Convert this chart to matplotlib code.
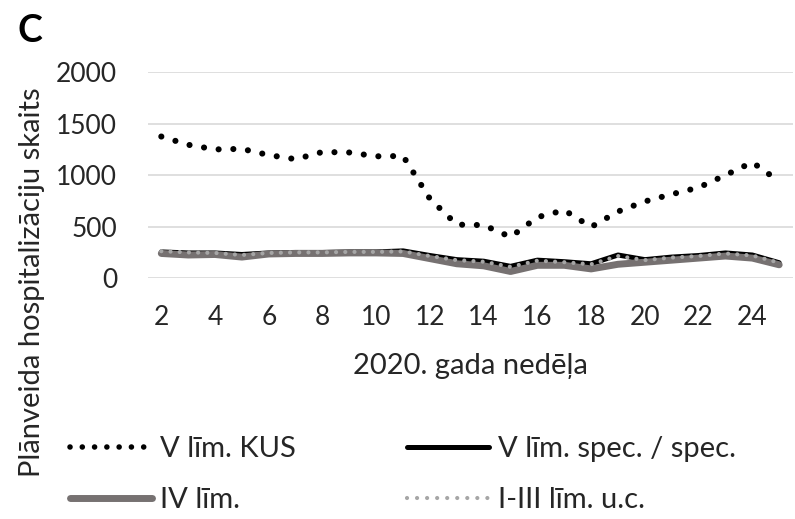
import matplotlib.pyplot as plt
from matplotlib.lines import Line2D

plt.rcParams['font.family'] = ['Lato', 'DejaVu Sans']

# planned hospitalisations per week of 2020, by hospital level
weeks = list(range(2, 26))
kus = [1375, 1295, 1250, 1255, 1195, 1155, 1225, 1220, 1183, 1186,
       770, 520, 515, 400, 592, 660, 497, 647, 745, 815, 880, 1000, 1125, 940]
spec = [255, 245, 245, 230, 245, 250, 250, 255, 255, 265,
        220, 180, 165, 115, 175, 160, 140, 225, 180, 205, 220, 245, 225, 150]
level_iv = [240, 225, 230, 205, 235, 240, 240, 245, 245, 240,
            190, 140, 120, 65, 125, 125, 90, 135, 155, 175, 195, 215, 195, 130]
level_i_iii = [262, 250, 245, 225, 245, 250, 250, 255, 255, 260,
               215, 175, 160, 110, 170, 155, 135, 215, 175, 200, 215, 240, 220, 150]

labels = ["V līm. KUS", "V līm. spec. / spec.", "IV līm.", "I-III līm. u.c."]

fig = plt.figure(figsize=(7.95, 5.19), dpi=100)
ax = fig.add_axes([0.186, 0.464, 0.811, 0.397])

ax.plot(weeks, kus, color="black", lw=4.4, linestyle=(0, (0.01, 2.4)),
        dash_capstyle="round", zorder=3)
ax.plot(weeks, spec, color="black", lw=3.6, solid_capstyle="round", zorder=3)
ax.plot(weeks, level_iv, color="#767171", lw=5.0, solid_capstyle="round", zorder=4)
ax.plot(weeks, level_i_iii, color="#a6a6a6", lw=3.0, linestyle=(0, (0.01, 2.2)),
        dash_capstyle="round", zorder=5)

ax.set_xlim(1.5, 25.5)
ax.set_ylim(0, 2000)
ax.set_xticks(range(2, 26, 2))
ax.set_yticks(range(0, 2001, 500))
ax.grid(axis="y", color="#d9d9d9", lw=1.2)
ax.set_axisbelow(True)
for s in ax.spines.values():
    s.set_visible(False)
ax.tick_params(axis="both", length=0, labelsize=19, colors="#262626")
ax.tick_params(axis="x", pad=19)
ax.tick_params(axis="y", pad=22)

ax.set_xlabel("2020. gada nedēļa", fontsize=21, color="#262626", labelpad=17)
fig.text(0.040, 0.457, "Plānveida hospitalizāciju skaits", rotation=90,
         fontsize=21, color="#262626", ha="center", va="center")
fig.text(0.022, 0.940, "C", fontsize=27, fontweight="bold", ha="left", va="center")

handles = [
    Line2D([], [], color="black", lw=4.0, linestyle=(0, (0.01, 2.2)), dash_capstyle="round"),
    Line2D([], [], color="#767171", lw=5.0, solid_capstyle="round"),
    Line2D([], [], color="black", lw=3.6, solid_capstyle="round"),
    Line2D([], [], color="#a6a6a6", lw=3.0, linestyle=(0, (0.01, 2.4)), dash_capstyle="round"),
]
fig.legend(handles, [labels[0], labels[2], labels[1], labels[3]], ncol=2,
           loc="upper left", bbox_to_anchor=(0.088, 0.160), frameon=False,
           fontsize=21, handlelength=2.8, handletextpad=0.3,
           columnspacing=3.8, labelspacing=0.85, borderaxespad=0, borderpad=0,
           labelcolor="#262626")

fig.savefig("out.png", dpi=100)
